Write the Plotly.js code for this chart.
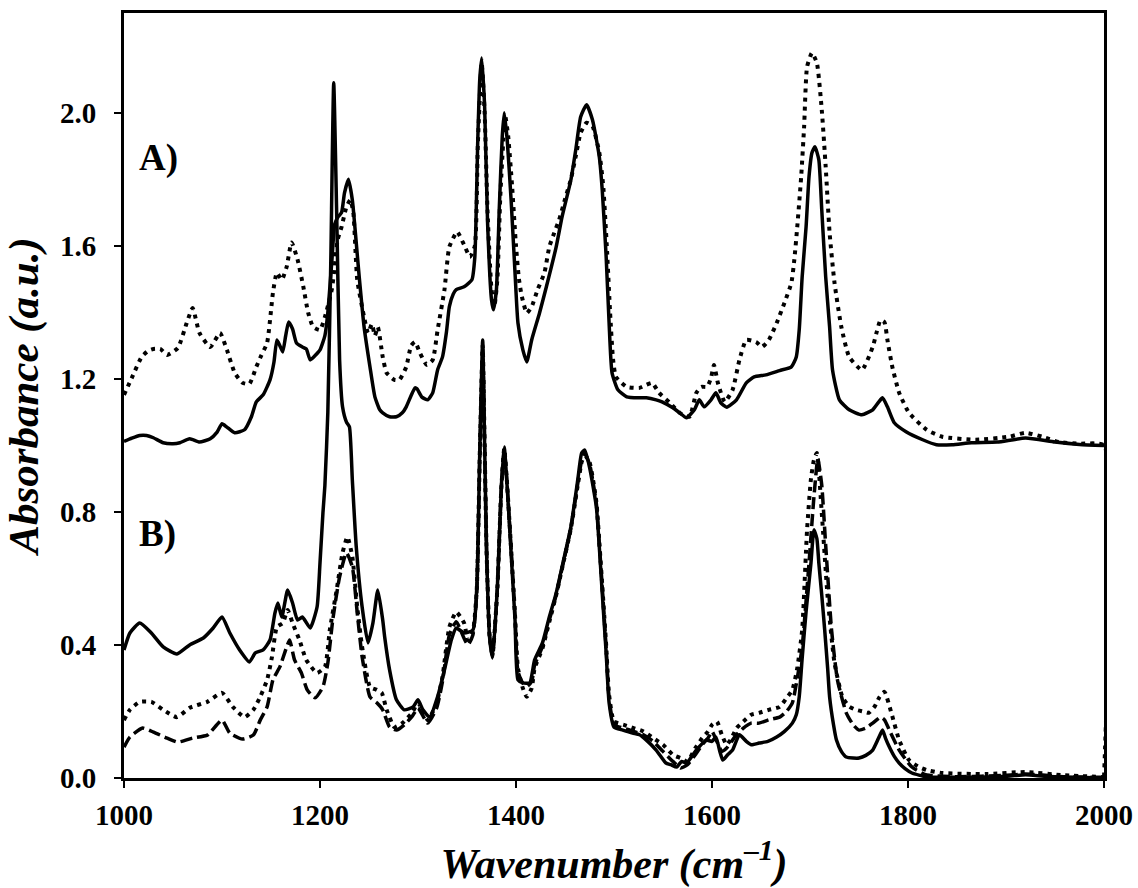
<!DOCTYPE html>
<html>
<head>
<meta charset="utf-8">
<script src="https://cdn.plot.ly/plotly-3.0.1.min.js"></script>
<style>
  html, body { margin: 0; padding: 0; background: #fff; }
  #chart { width: 1138px; height: 888px; }
</style>
</head>
<body>
<div id="chart"></div>
<script>
// FTIR absorbance spectra, 1000-2000 cm-1.
// Panel A spectra are offset by +1.0; panel B spectra share the lower baseline.

// ---- Panel A, solid spectrum ----
const wnA1 = [
  1000,1008,1016,1023,1030,1040,1050,1057,1067,1077,
  1088,1095,1100,1105,1113,1123,1130,1135,1142,1149,
  1153,1156,1159,1162,1165,1168,1172,1176,1182,1186,
  1190,1195,1200,1205,1208,1212,1215,1218,1222,1225,
  1229,1233,1237,1240,1245,1251,1256,1261,1264,1271,
  1278,1284,1288,1293,1297,1299,1304,1310,1315,1320,
  1325,1329,1332,1336,1339,1347,1355,1358,1361,1363,
  1365,1368,1371,1375,1377,1380,1383,1386,1388,1391,
  1395,1399,1402,1407,1411,1416,1424,1431,1441,1447,
  1456,1461,1466,1472,1478,1485,1488,1492,1495,1498,
  1504,1513,1526,1533,1543,1549,1560,1567,1574,1582,
  1587,1592,1599,1604,1609,1615,1625,1635,1643,1655,
  1669,1681,1686,1689,1692,1696,1699,1702,1705,1709,
  1712,1716,1720,1723,1730,1740,1753,1764,1770,1774,
  1779,1786,1798,1815,1829,1845,1865,1891,1920,1950,
  1975,2000
];
const absA1 = [
  1.012,1.022,1.030,1.030,1.023,1.008,1.005,1.008,1.020,1.010,
  1.020,1.040,1.065,1.055,1.038,1.047,1.086,1.131,1.152,1.197,
  1.250,1.317,1.300,1.281,1.330,1.371,1.350,1.308,1.296,1.290,
  1.257,1.270,1.287,1.330,1.400,1.550,1.665,1.685,1.700,1.759,
  1.800,1.738,1.609,1.507,1.356,1.236,1.146,1.107,1.098,1.086,
  1.086,1.098,1.116,1.150,1.173,1.170,1.145,1.137,1.158,1.227,
  1.266,1.340,1.417,1.455,1.468,1.477,1.498,1.567,1.919,2.100,
  2.165,2.018,1.669,1.438,1.408,1.468,1.717,1.930,2.000,1.919,
  1.738,1.519,1.368,1.287,1.251,1.317,1.398,1.477,1.597,1.687,
  1.798,1.889,1.988,2.024,1.979,1.868,1.768,1.567,1.368,1.218,
  1.167,1.146,1.143,1.143,1.137,1.131,1.113,1.098,1.083,1.107,
  1.137,1.116,1.137,1.158,1.128,1.115,1.137,1.188,1.206,1.212,
  1.225,1.236,1.266,1.347,1.507,1.657,1.808,1.880,1.898,1.859,
  1.708,1.507,1.356,1.227,1.137,1.107,1.092,1.107,1.130,1.143,
  1.116,1.068,1.041,1.017,1.002,1.002,1.008,1.010,1.022,1.010,
  1.003,1.000
];

// ---- Panel A, dotted spectrum ----
const wnA2 = [
  1000,1008,1018,1025,1030,1037,1044,1055,1064,1070,
  1077,1088,1098,1105,1113,1121,1128,1135,1140,1146,
  1152,1156,1161,1166,1171,1177,1183,1188,1193,1200,
  1205,1212,1215,1218,1222,1227,1231,1234,1238,1245,
  1249,1253,1256,1259,1264,1268,1276,1281,1288,1293,
  1297,1302,1309,1315,1320,1327,1332,1340,1347,1353,
  1358,1361,1365,1368,1371,1375,1378,1381,1384,1389,
  1392,1396,1400,1403,1406,1411,1416,1422,1429,1434,
  1439,1444,1450,1456,1461,1466,1472,1478,1485,1489,
  1493,1496,1499,1502,1513,1526,1533,1539,1546,1557,
  1567,1577,1584,1589,1595,1599,1602,1606,1613,1621,
  1628,1635,1645,1651,1658,1666,1674,1681,1684,1687,
  1691,1694,1697,1702,1707,1712,1716,1720,1725,1732,
  1740,1753,1764,1768,1772,1776,1779,1784,1791,1801,
  1819,1835,1869,1903,1920,1937,1954,1975,2000,2000
];
const absA2 = [
  1.152,1.203,1.266,1.285,1.290,1.290,1.272,1.293,1.368,1.413,
  1.338,1.296,1.338,1.287,1.218,1.188,1.185,1.236,1.270,1.308,
  1.459,1.519,1.498,1.537,1.610,1.560,1.477,1.398,1.356,1.347,
  1.386,1.468,1.537,1.618,1.657,1.717,1.738,1.700,1.498,1.386,
  1.338,1.365,1.330,1.356,1.266,1.218,1.197,1.197,1.236,1.300,
  1.311,1.278,1.242,1.257,1.347,1.468,1.597,1.642,1.603,1.567,
  1.600,1.900,2.150,2.000,1.700,1.470,1.420,1.500,1.750,1.990,
  1.930,1.780,1.600,1.500,1.447,1.398,1.417,1.468,1.519,1.597,
  1.639,1.678,1.740,1.800,1.870,1.940,1.970,1.960,1.880,1.780,
  1.580,1.400,1.260,1.206,1.176,1.173,1.182,1.188,1.158,1.128,
  1.098,1.086,1.158,1.176,1.176,1.203,1.242,1.188,1.131,1.167,
  1.257,1.317,1.311,1.296,1.317,1.368,1.429,1.489,1.558,1.657,
  1.808,1.958,2.138,2.180,2.150,2.009,1.838,1.639,1.489,1.356,
  1.266,1.227,1.296,1.340,1.377,1.370,1.317,1.236,1.158,1.098,
  1.047,1.026,1.017,1.026,1.038,1.026,1.010,1.005,1.000,0.000
];

// ---- Panel B, solid spectrum ----
const wnB1 = [
  1000,1006,1016,1027,1040,1054,1067,1081,1091,1100,
  1108,1118,1128,1134,1142,1149,1154,1157,1161,1167,
  1172,1177,1182,1190,1197,1200,1203,1205,1208,1211,
  1214,1217,1220,1223,1227,1230,1233,1237,1243,1249,
  1254,1259,1264,1266,1271,1278,1286,1295,1300,1305,
  1312,1320,1327,1334,1339,1347,1356,1360,1363,1366,
  1368,1370,1373,1376,1381,1385,1388,1391,1395,1399,
  1402,1407,1414,1419,1427,1434,1441,1447,1456,1463,
  1467,1470,1475,1482,1485,1488,1492,1495,1500,1509,
  1519,1526,1533,1543,1553,1558,1564,1569,1574,1584,
  1594,1600,1604,1608,1611,1616,1621,1628,1635,1640,
  1648,1657,1666,1674,1682,1686,1689,1692,1696,1701,
  1704,1707,1709,1712,1715,1718,1720,1724,1727,1732,
  1737,1744,1750,1757,1764,1770,1774,1777,1781,1786,
  1791,1797,1804,1812,1819,1850,1900,1920,1940,1970,
  2000
];
const absB1 = [
  0.385,0.436,0.466,0.439,0.394,0.373,0.400,0.421,0.451,0.484,
  0.436,0.385,0.349,0.376,0.385,0.415,0.496,0.526,0.484,0.565,
  0.526,0.475,0.484,0.451,0.514,0.647,0.797,0.880,1.100,1.550,
  2.090,1.700,1.257,1.116,1.070,1.056,0.896,0.695,0.514,0.406,
  0.466,0.565,0.475,0.424,0.325,0.235,0.205,0.214,0.235,0.205,
  0.183,0.244,0.325,0.415,0.451,0.436,0.445,0.574,0.977,1.317,
  1.000,0.677,0.424,0.361,0.574,0.875,0.995,0.875,0.677,0.475,
  0.295,0.286,0.286,0.355,0.406,0.484,0.556,0.635,0.755,0.896,
  0.977,0.986,0.935,0.815,0.695,0.556,0.376,0.226,0.153,0.144,
  0.135,0.130,0.114,0.084,0.045,0.040,0.033,0.050,0.045,0.084,
  0.114,0.110,0.123,0.080,0.054,0.070,0.084,0.130,0.110,0.100,
  0.105,0.110,0.123,0.140,0.165,0.190,0.244,0.360,0.500,0.647,
  0.746,0.720,0.647,0.550,0.445,0.330,0.244,0.160,0.114,0.080,
  0.063,0.060,0.060,0.068,0.084,0.120,0.144,0.120,0.093,0.065,
  0.045,0.028,0.015,0.008,0.003,0.002,0.005,0.010,0.005,0.002,
  0.000
];

// ---- Panel B, dotted spectrum ----
const wnB2 = [
  1000,1006,1016,1028,1040,1054,1067,1085,1100,1111,
  1123,1132,1139,1146,1151,1156,1162,1167,1172,1179,
  1186,1197,1205,1210,1217,1223,1228,1233,1238,1243,
  1251,1258,1263,1268,1276,1284,1294,1300,1310,1319,
  1325,1332,1339,1347,1351,1356,1360,1363,1366,1368,
  1370,1373,1376,1381,1385,1388,1391,1395,1399,1402,
  1407,1411,1416,1419,1427,1434,1441,1447,1456,1463,
  1467,1470,1475,1482,1485,1488,1492,1495,1500,1510,
  1520,1530,1540,1550,1560,1568,1575,1583,1590,1596,
  1600,1605,1610,1615,1620,1625,1632,1640,1648,1658,
  1669,1676,1682,1687,1692,1697,1701,1704,1707,1712,
  1718,1725,1733,1740,1747,1754,1760,1766,1771,1776,
  1783,1791,1801,1810,1819,1835,1880,1920,1960,2000
];
const absB2 = [
  0.174,0.205,0.229,0.229,0.205,0.183,0.211,0.229,0.256,0.214,
  0.183,0.205,0.244,0.295,0.364,0.454,0.466,0.505,0.466,0.415,
  0.355,0.316,0.334,0.445,0.565,0.677,0.725,0.665,0.514,0.394,
  0.274,0.265,0.256,0.205,0.153,0.165,0.196,0.226,0.174,0.226,
  0.304,0.454,0.499,0.466,0.415,0.440,0.570,0.970,1.300,1.000,
  0.680,0.430,0.370,0.570,0.870,0.990,0.880,0.690,0.490,0.330,
  0.270,0.244,0.270,0.330,0.390,0.470,0.550,0.630,0.750,0.880,
  0.950,0.970,0.950,0.830,0.710,0.580,0.400,0.250,0.170,0.160,
  0.150,0.140,0.120,0.100,0.070,0.060,0.050,0.090,0.120,0.140,
  0.160,0.170,0.130,0.100,0.120,0.150,0.170,0.190,0.196,0.205,
  0.214,0.240,0.265,0.330,0.445,0.746,0.900,0.956,0.977,0.797,
  0.544,0.346,0.244,0.215,0.205,0.200,0.196,0.215,0.244,0.259,
  0.196,0.114,0.054,0.035,0.024,0.015,0.012,0.018,0.008,0.003
];

// ---- Panel B, dashed spectrum ----
const wnB3 = [
  1000,1006,1019,1030,1044,1055,1070,1085,1100,1108,
  1121,1132,1139,1146,1152,1159,1166,1169,1174,1181,
  1187,1195,1203,1208,1213,1220,1227,1233,1238,1243,
  1251,1258,1264,1271,1278,1286,1294,1300,1310,1319,
  1325,1332,1339,1347,1351,1356,1360,1363,1366,1368,
  1370,1373,1376,1381,1385,1388,1391,1395,1399,1402,
  1407,1411,1416,1419,1427,1434,1441,1447,1456,1463,
  1467,1470,1475,1482,1485,1488,1492,1495,1500,1510,
  1520,1530,1540,1550,1560,1568,1575,1583,1590,1596,
  1600,1605,1610,1615,1620,1625,1632,1640,1648,1658,
  1669,1676,1682,1687,1692,1699,1704,1708,1712,1716,
  1722,1728,1737,1744,1750,1757,1764,1772,1776,1781,
  1791,1804,1819,1850,1900,1920,1960,2000
];
const absB3 = [
  0.093,0.123,0.150,0.138,0.120,0.108,0.120,0.129,0.174,0.135,
  0.117,0.129,0.174,0.214,0.295,0.334,0.394,0.415,0.355,0.316,
  0.265,0.241,0.274,0.346,0.475,0.605,0.677,0.635,0.496,0.364,
  0.244,0.226,0.205,0.153,0.144,0.160,0.185,0.210,0.165,0.210,
  0.290,0.430,0.470,0.420,0.400,0.430,0.560,0.960,1.290,1.000,
  0.680,0.430,0.365,0.570,0.870,0.990,0.880,0.690,0.490,0.320,
  0.285,0.275,0.290,0.340,0.395,0.475,0.550,0.630,0.750,0.885,
  0.955,0.975,0.945,0.825,0.705,0.575,0.390,0.240,0.160,0.150,
  0.140,0.130,0.110,0.080,0.050,0.030,0.040,0.070,0.100,0.120,
  0.140,0.110,0.080,0.090,0.110,0.130,0.150,0.165,0.165,0.175,
  0.183,0.200,0.226,0.300,0.394,0.647,0.845,0.960,0.880,0.700,
  0.445,0.295,0.196,0.160,0.144,0.150,0.165,0.183,0.175,0.144,
  0.084,0.033,0.009,0.004,0.008,0.012,0.004,0.002
];

// Axis ticks and panel labels
const xTicks = [1000, 1200, 1400, 1600, 1800, 2000];
const yTicks = [0.0, 0.4, 0.8, 1.2, 1.6, 2.0];
const panelLabels = ['A)', 'B)'];
const panelLabelY = [1.865, 0.735];

const SERIF = '"Liberation Serif", "Times New Roman", Times, serif';
const INK = '#000000';

function spectrum(x, y, dash, width) {
  return {
    x: x, y: y, type: 'scatter', mode: 'lines',
    line: { color: INK, width: width, dash: dash, shape: 'spline', smoothing: 0.5 },
    hoverinfo: 'skip'
  };
}

const traces = [
  spectrum(wnB3, absB3, '12px,5px', 3.5),
  spectrum(wnB2, absB2, '4px,5px', 4),
  spectrum(wnB1, absB1, 'solid', 3.5),
  spectrum(wnA2, absA2, '4px,5px', 4),
  spectrum(wnA1, absA1, 'solid', 3.5)
];

const layout = {
  width: 1138,
  height: 888,
  margin: { l: 124, r: 34, t: 13, b: 110 },
  paper_bgcolor: '#ffffff',
  plot_bgcolor: '#ffffff',
  showlegend: false,
  font: { family: SERIF, color: INK },
  xaxis: {
    range: [1000, 2000],
    tickmode: 'array',
    tickvals: xTicks,
    ticktext: xTicks.map(String),
    showline: true, mirror: true, linecolor: INK, linewidth: 3,
    ticks: 'outside', ticklen: 7, tickwidth: 2.5, tickcolor: INK,
    ticklabelstandoff: 2,
    tickfont: { family: SERIF, size: 29, weight: 'bold', color: INK },
    showgrid: false, zeroline: false, automargin: false,
    title: {
      text: 'Wavenumber (cm<sup>–1</sup>)',
      font: { family: SERIF, size: 42, weight: 'bold', style: 'italic', color: INK },
      standoff: 24
    }
  },
  yaxis: {
    range: [0, 2.3],
    tickmode: 'array',
    tickvals: yTicks,
    ticktext: yTicks.map(v => v.toFixed(1)),
    showline: true, mirror: true, linecolor: INK, linewidth: 3,
    ticks: 'outside', ticklen: 7, tickwidth: 2.5, tickcolor: INK,
    ticklabelstandoff: 12,
    tickfont: { family: SERIF, size: 29, weight: 'bold', color: INK },
    showgrid: false, zeroline: false, automargin: false,
    title: {
      text: 'Absorbance (a.u.)',
      font: { family: SERIF, size: 43, weight: 'bold', style: 'italic', color: INK },
      standoff: 14
    }
  },
  annotations: panelLabels.map((t, i) => ({
    text: t, x: 1013, y: panelLabelY[i], xref: 'x', yref: 'y',
    xanchor: 'left', yanchor: 'middle', showarrow: false,
    font: { family: SERIF, size: 37, weight: 'bold', color: INK }
  }))
};

Plotly.newPlot('chart', traces, layout, { staticPlot: true, displayModeBar: false });
</script>
</body>
</html>
